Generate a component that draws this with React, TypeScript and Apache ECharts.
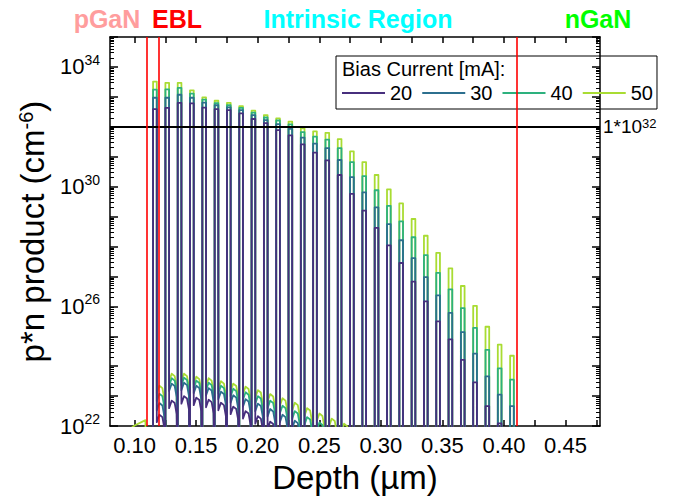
import React, { useEffect, useRef } from 'react';
import * as echarts from 'echarts';

const FONT = '"Liberation Sans", Arial, Helvetica, sans-serif';

// Layer structure (depth in µm)
const eblStart = 0.109;
const eblEnd = 0.115;
const nGaNStart = 0.415;
const wellWidth = 0.003;
const wellStart = [
  0.115, 0.125, 0.135, 0.145, 0.155, 0.165, 0.175, 0.185, 0.195, 0.205,
  0.215, 0.225, 0.235, 0.245, 0.255, 0.265, 0.275, 0.285, 0.295, 0.305,
  0.315, 0.325, 0.335, 0.345, 0.355, 0.365, 0.375, 0.385, 0.395, 0.405,
];

// log10 of p*n product (cm^-6) at well maxima, per bias current
const peak50 = [33.51, 33.47, 33.47, 33.22, 32.98, 32.87, 32.8, 32.69, 32.54, 32.39, 32.28, 32.17, 31.95, 31.85, 31.8, 31.59, 31.18, 30.82, 30.39, 29.91, 29.44, 28.92, 28.36, 27.79, 27.27, 26.68, 26.02, 25.32, 24.72, 24.35];
const peak40 = [33.24, 33.25, 33.3, 33.11, 32.91, 32.79, 32.72, 32.63, 32.47, 32.31, 32.21, 32.08, 31.82, 31.67, 31.57, 31.29, 30.82, 30.35, 29.88, 29.36, 28.84, 28.31, 27.71, 27.12, 26.57, 25.94, 25.28, 24.55, 23.93, 23.55];
const peak30 = [32.97, 32.97, 33.07, 32.97, 32.81, 32.72, 32.65, 32.56, 32.39, 32.22, 32.09, 31.93, 31.64, 31.44, 31.29, 30.89, 30.32, 29.81, 29.31, 28.75, 28.21, 27.61, 26.98, 26.37, 25.78, 25.14, 24.42, 23.66, 23.05, 22.67];
const peak20 = [32.59, 32.63, 32.8, 32.78, 32.64, 32.59, 32.56, 32.45, 32.26, 32.12, 31.89, 31.71, 31.41, 31.14, 30.88, 30.39, 29.76, 29.2, 28.62, 28.04, 27.45, 26.83, 26.17, 25.5, 24.9, 24.21, 23.46, 22.67, 22.09, 21.5];

// log10 of p*n in the barrier following each well (arch level)
const arch50 = [23.35, 23.75, 23.75, 23.65, 23.6, 23.5, 23.42, 23.32, 23.2, 23.07, 22.93, 22.78, 22.6, 22.42, 22.25, 22.08, 21.85, 21.6, 21.35, 21.1, 20.85, 20.6, 20.35, 20.1, 19.85, 19.6, 19.35, 19.1, 18.85, 18.6];
const arch40 = [23.08, 23.6, 23.62, 23.52, 23.45, 23.35, 23.25, 23.13, 23.0, 22.85, 22.68, 22.5, 22.3, 22.12, 21.9, 21.65, 21.4, 21.15, 20.9, 20.65, 20.4, 20.15, 19.9, 19.65, 19.4, 19.15, 18.9, 18.65, 18.4, 18.15];
const arch30 = [22.77, 23.42, 23.45, 23.35, 23.27, 23.15, 23.03, 22.9, 22.75, 22.57, 22.38, 22.18, 21.95, 21.7, 21.45, 21.2, 20.95, 20.7, 20.45, 20.2, 19.95, 19.7, 19.45, 19.2, 18.95, 18.7, 18.45, 18.2, 17.95, 17.7];
const arch20 = [22.38, 22.85, 23.0, 22.95, 22.88, 22.78, 22.65, 22.5, 22.33, 22.15, 21.95, 21.72, 21.5, 21.25, 21.0, 20.75, 20.5, 20.25, 20.0, 19.75, 19.5, 19.25, 19.0, 18.75, 18.5, 18.25, 18.0, 17.75, 17.5, 17.25];

// pGaN side
const pganDepth = [0.08, 0.1, 0.1088];
const pgan50 = [21.4, 22.02, 22.2];
const pgan40 = [21.1, 21.7, 21.9];
const pgan30 = [20.8, 21.4, 21.6];
const pgan20 = [20.5, 21.1, 21.3];

const floorLevel = 18; // far below the visible range
// barrier arch profile: [fraction of barrier, offset from arch level]
const archProfile = [[0, -0.25], [0.3, 0], [0.65, -0.08], [0.88, -0.45]];

const currents = ['20', '30', '40', '50'];
const colors: Record<string, string> = { '20': '#472f7d', '30': '#2c6f8e', '40': '#2db17e', '50': '#a9dc33' };
const peaks: Record<string, number[]> = { '20': peak20, '30': peak30, '40': peak40, '50': peak50 };
const arches: Record<string, number[]> = { '20': arch20, '30': arch30, '40': arch40, '50': arch50 };
const pgans: Record<string, number[]> = { '20': pgan20, '30': pgan30, '40': pgan40, '50': pgan50 };

const xTickValues = [0.1, 0.125, 0.15, 0.175, 0.2, 0.225, 0.25, 0.275, 0.3, 0.325, 0.35, 0.375, 0.4, 0.425, 0.45, 0.475];
const xLabelValues = [0.1, 0.15, 0.2, 0.25, 0.3, 0.35, 0.4, 0.45];
const yMajorTicks = [22, 23, 24, 25, 26, 27, 28, 29, 30, 31, 32, 33, 34, 35];
const yLabelValues = [22, 26, 30, 34];
const yMinorTicks: number[] = [];
for (let n = 22; n < 35; n++) for (let k = 2; k <= 9; k++) yMinorTicks.push(n + Math.log10(k));

function buildCurve(key: string): number[][] {
  const pk = peaks[key];
  const ar = arches[key];
  const pg = pgans[key];
  const pts: number[][] = pganDepth.map((d, i) => [d, pg[i]]);
  pts.push([eblStart, floorLevel]);
  for (let i = 0; i < wellStart.length; i++) {
    const xs = wellStart[i];
    const xe = xs + wellWidth;
    const next = i < wellStart.length - 1 ? wellStart[i + 1] : nGaNStart;
    pts.push([xs, floorLevel], [xs, pk[i]], [xe, pk[i]]);
    const bw = next - xe;
    for (const [f, off] of archProfile) pts.push([xe + f * bw, ar[i] + off]);
    pts.push([next, floorLevel]);
  }
  pts.push([0.478, floorLevel]);
  return pts;
}

export default function App() {
  const ref = useRef<HTMLDivElement>(null);
  useEffect(() => {
    document.body.style.margin = '0';
    if (!ref.current) return;
    const chart = echarts.init(ref.current, undefined, { renderer: 'svg' });
    const axisLineStyle = { color: '#000', width: 1.5 };
    const xCommon = {
      type: 'value' as const,
      min: 0.08,
      max: 0.478,
      splitLine: { show: false },
      axisLine: { show: true, onZero: false, lineStyle: axisLineStyle },
    };
    const yCommon = {
      type: 'value' as const,
      min: 22,
      max: 35,
      splitLine: { show: false },
      axisLine: { show: true, onZero: false, lineStyle: axisLineStyle },
    };
    const order = ['50', '40', '30', '20'];
    const series: any[] = order.map((key) => ({
      name: key,
      type: 'line',
      data: buildCurve(key),
      symbol: 'none',
      showSymbol: false,
      xAxisIndex: 0,
      yAxisIndex: 0,
      lineStyle: { color: colors[key], width: 1.8, join: 'round' },
      itemStyle: { color: colors[key] },
      z: 2,
    }));
    series[series.length - 1].markLine = {
      silent: true,
      symbol: ['none', 'none'],
      animation: false,
      label: { show: false },
      data: [
        {
          yAxis: 32,
          lineStyle: { color: '#000', width: 2, type: 'solid' },
          label: {
            show: true,
            position: 'end',
            distance: 3,
            formatter: '1*10{s|32}',
            color: '#000',
            fontSize: 19,
            fontFamily: FONT,
            rich: { s: { fontSize: 13, verticalAlign: 'top', lineHeight: 13, color: '#000', fontFamily: FONT } },
          },
        },
        { xAxis: eblStart, lineStyle: { color: '#ff0000', width: 1.6, type: 'solid' } },
        { xAxis: eblEnd, lineStyle: { color: '#ff0000', width: 1.6, type: 'solid' } },
        { xAxis: nGaNStart, lineStyle: { color: '#ff0000', width: 1.6, type: 'solid' } },
      ],
    };

    chart.setOption({
      animation: false,
      backgroundColor: '#fff',
      grid: { left: 110, right: 74, top: 37, bottom: 68 },
      legend: {
        data: currents,
        left: 336,
        top: 56,
        orient: 'horizontal',
        icon: 'rect',
        padding: [26, 4, 5, 6],
        itemGap: 10,
        itemWidth: 43,
        itemHeight: 2,
        borderColor: '#000',
        borderWidth: 1,
        textStyle: { fontSize: 20, color: '#000', fontFamily: FONT, lineHeight: 22 },
      },
      graphic: [
        { type: 'text', x: 342, y: 69, style: { text: 'Bias Current [mA]:', fontSize: 20, fontFamily: FONT, fill: '#000', verticalAlign: 'middle', align: 'left' } },
        { type: 'text', x: 107, y: 19, style: { text: 'pGaN', fontSize: 25, fontWeight: 'bold', fontFamily: FONT, fill: '#ff9d9d', align: 'center', verticalAlign: 'middle' } },
        { type: 'text', x: 177, y: 19, style: { text: 'EBL', fontSize: 25, fontWeight: 'bold', fontFamily: FONT, fill: '#ff0000', align: 'center', verticalAlign: 'middle' } },
        { type: 'text', x: 358, y: 19, style: { text: 'Intrinsic Region', fontSize: 25, fontWeight: 'bold', fontFamily: FONT, fill: '#00ffff', align: 'center', verticalAlign: 'middle' } },
        { type: 'text', x: 598, y: 19, style: { text: 'nGaN', fontSize: 25, fontWeight: 'bold', fontFamily: FONT, fill: '#00ff00', align: 'center', verticalAlign: 'middle' } },
      ],
      xAxis: [
        {
          ...xCommon,
          position: 'bottom',
          axisTick: { show: true, inside: true, length: 6, customValues: xTickValues, lineStyle: { color: '#000', width: 1.5 } },
          axisLabel: {
            show: true,
            customValues: xLabelValues,
            formatter: (v: number) => v.toFixed(2),
            fontSize: 22,
            color: '#000',
            fontFamily: FONT,
            margin: 8,
          },
          name: 'Depth (µm)',
          nameLocation: 'middle',
          nameGap: 31,
          nameTextStyle: { fontSize: 33, color: '#000', fontFamily: FONT },
        },
        {
          ...xCommon,
          position: 'top',
          axisTick: { show: true, inside: true, length: 6, customValues: xTickValues, lineStyle: { color: '#000', width: 1.5 } },
          axisLabel: { show: false },
        },
      ],
      yAxis: [
        {
          ...yCommon,
          position: 'left',
          axisTick: { show: true, inside: true, length: 8, customValues: yMajorTicks, lineStyle: { color: '#000', width: 1.5 } },
          axisLabel: {
            show: true,
            customValues: yLabelValues,
            formatter: (v: number) => `{b|10}{s|${Math.round(v)}}`,
            margin: 10,
            color: '#000',
            rich: {
              b: { fontSize: 22, lineHeight: 28, color: '#000', fontFamily: FONT },
              s: { fontSize: 14, lineHeight: 14, verticalAlign: 'top', color: '#000', fontFamily: FONT },
            },
          },
          name: 'p*n product (cm{s|-6})',
          nameLocation: 'middle',
          nameGap: 52,
          nameTextStyle: {
            fontSize: 33,
            color: '#000',
            fontFamily: FONT,
            rich: { s: { fontSize: 20, lineHeight: 20, verticalAlign: 'top', color: '#000', fontFamily: FONT } },
          },
        },
        {
          ...yCommon,
          position: 'left',
          axisLine: { show: false },
          axisTick: { show: true, inside: true, length: 4, customValues: yMinorTicks, lineStyle: { color: '#000', width: 1 } },
          axisLabel: { show: false },
        },
        {
          ...yCommon,
          position: 'right',
          axisTick: { show: true, inside: true, length: 8, customValues: yMajorTicks, lineStyle: { color: '#000', width: 1.5 } },
          axisLabel: { show: false },
        },
        {
          ...yCommon,
          position: 'right',
          axisLine: { show: false },
          axisTick: { show: true, inside: true, length: 4, customValues: yMinorTicks, lineStyle: { color: '#000', width: 1 } },
          axisLabel: { show: false },
        },
      ],
      series,
    });
    return () => chart.dispose();
  }, []);
  return <div ref={ref} style={{ width: 674, height: 499 }} />;
}
